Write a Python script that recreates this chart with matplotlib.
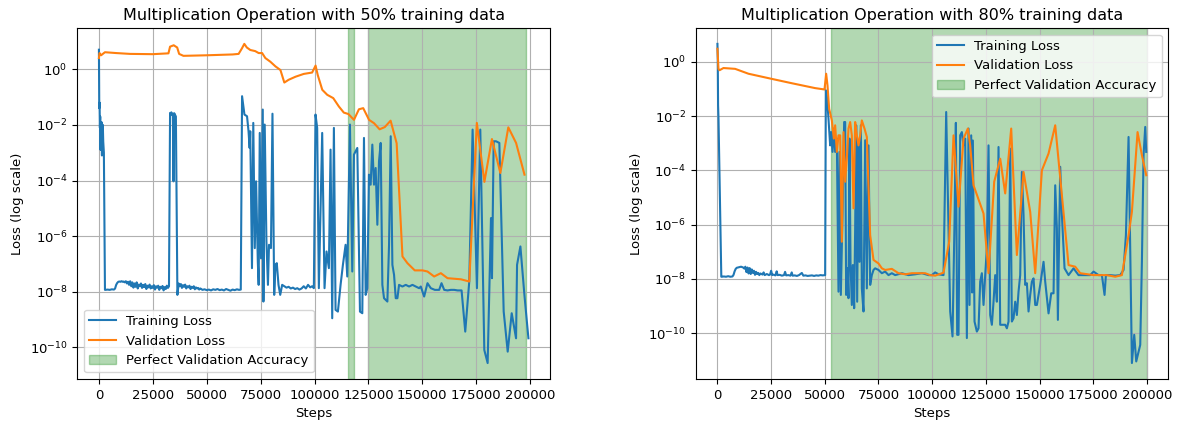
import numpy as np
import matplotlib
matplotlib.use("Agg")
import matplotlib.pyplot as plt

# ---- 50% training data (values read as log10(loss)) ----
train50_steps = [
    0, 150, 300, 450, 600, 750, 900, 1050, 1200, 1400, 1600, 1800, 2000, 2300, 2800,
    3000, 4000, 5000, 6000, 7000, 7500, 8000, 8500, 9000, 9500, 10000, 10500, 11000, 11500,
    12000, 12500, 13000, 13500, 14000, 14500, 15000, 15500, 16000, 16500, 17000, 17500,
    18000, 18500, 19000, 19500, 20000, 20500, 21000, 21500, 22000, 22500, 23000, 23500,
    24000, 24500, 25000, 25500, 26000, 26500, 27000, 27500, 28000, 28500, 29000, 29500,
    30000, 30500, 31000, 31500, 32000, 32500,
    33000, 33300, 33600, 34000, 34300, 34600, 34900, 35300, 35700, 36400,
    37000, 37500, 38000, 38500, 39000, 39500, 40000, 40500, 41000, 41500, 42000, 42500,
    43000, 43500, 44000, 44500, 45000, 45500, 46000, 46500, 47000, 47500, 48000, 49000,
    50000, 51000, 52000, 53000, 54000, 55000, 56000, 57000, 58000, 59000, 60000, 61000,
    62000, 63000, 64000, 65000, 65800,
    66400, 67100, 67500, 68700, 69400, 69900, 70200, 71000, 71600, 72300, 72900, 73700,
    74100, 74600, 75200, 76000, 76300, 76900, 77700, 78400, 78900, 79800, 80500, 81300,
    81900, 82500, 83300, 84100, 85000,
    86000, 87000, 88000, 89000, 90000, 91000, 92000, 93000, 94000, 95000, 96000, 97000,
    98000, 98900, 99700,
    100465, 101240, 102015, 103566, 104651, 105581, 106667, 107442, 108217, 108992,
    109767, 110853, 112093, 113178, 114419, 115194, 116434, 117519, 118295, 119845,
    121085, 122171, 122946, 123721, 124496, 125271, 126047, 126822, 127597, 128372,
    129147, 129922, 130698, 131473, 132248, 133798, 134574, 135349, 136124, 136899,
    137674, 138450, 139225, 140775, 142326, 143876, 145426, 146977, 148527,
    149302, 150853, 152403, 153953, 155814, 157829, 158915, 160155, 161705, 163256,
    164806, 166357, 168217, 169922, 171783, 173333, 175349, 176899, 178760, 180310,
    181860, 182326, 183101, 184186, 185736, 187752, 189612, 191473, 193488, 193953,
    195504, 197364, 199225,
]
train50_log = [
    0.70, -1.40, -1.20, -2.10, -1.70, -2.90, -2.00, -2.50, -1.90, -3.10, -2.30, -2.00, -2.60, -3.00, -7.93,
    -7.93, -7.92, -7.93, -7.91, -7.92, -7.88, -7.75, -7.68, -7.64, -7.63, -7.64, -7.62, -7.64, -7.63,
    -7.66, -7.62, -7.70, -7.64, -7.75, -7.62, -7.80, -7.66, -7.85, -7.70, -7.82, -7.66,
    -7.88, -7.74, -7.80, -7.70, -7.86, -7.75, -7.83, -7.72, -7.90, -7.78, -7.84, -7.74,
    -7.88, -7.80, -7.86, -7.76, -7.92, -7.80, -7.85, -7.78, -7.93, -7.82, -7.87, -7.79,
    -7.95, -7.83, -7.90, -7.78, -7.86, -7.80,
    -1.57, -1.62, -1.55, -1.65, -1.60, -4.03, -1.58, -1.64, -1.70, -8.11,
    -7.70, -7.80, -7.72, -7.86, -7.76, -7.82, -7.74, -7.88, -7.80, -7.84, -7.78, -7.90,
    -7.82, -7.86, -7.80, -7.91, -7.84, -7.88, -7.86, -7.92, -7.88, -7.90, -7.93, -7.91,
    -7.94, -7.92, -7.95, -7.91, -7.93, -7.90, -7.94, -7.92, -7.95, -7.90, -7.93, -7.96,
    -7.92, -7.94, -7.91, -7.93, -7.92,
    -0.97, -1.39, -1.63, -1.69, -2.23, -2.83, -2.23, -7.15, -1.93, -6.43, -4.03, -6.91,
    -7.75, -2.29, -6.80, -1.45, -8.35, -1.99, -6.19, -7.75, -6.31, -6.43, -1.60, -8.11,
    -7.03, -6.97, -7.75, -8.11, -7.75,
    -7.80, -7.85, -7.82, -7.88, -7.85, -7.90, -7.87, -7.92, -7.88, -7.80, -7.88, -7.75,
    -7.84, -7.80, -7.87,
    -1.63, -2.11, -7.87, -2.29, -7.87, -6.55, -7.15, -2.89, -8.95, -2.11,
    -8.65, -8.71, -7.75, -7.03, -6.31, -7.45, -1.99, -7.27, -3.07, -2.83,
    -8.71, -8.77, -2.47, -8.11, -7.87, -3.79, -4.15, -2.71, -4.15, -3.55,
    -5.59, -3.31, -2.65, -7.75, -8.23, -8.35, -6.31, -2.41, -7.03, -7.39,
    -8.23, -8.23, -7.75, -7.81, -7.75, -7.81, -7.75, -7.81, -7.87,
    -7.81, -8.17, -7.69, -7.87, -7.93, -7.93, -7.69, -7.93, -7.95, -7.93,
    -7.93, -7.95, -7.95, -9.43, -7.63, -2.17, -7.87, -2.17, -10.09, -10.56,
    -5.35, -7.51, -2.59, -2.59, -2.65, -8.71, -10.15, -8.77, -9.67, -7.03,
    -6.37, -8.11, -9.67,
]
val50_steps = [
    0, 300, 1000, 2800, 8000, 14400, 25000, 32250, 33000, 34700, 36300, 37200, 39200,
    50000, 62000, 64800, 66350, 67440, 68600, 70230, 72500, 74100, 75700, 77200, 79500,
    81900, 84200, 86000, 88000, 91200, 95000, 98900, 100500, 101500, 103600, 105900,
    108700, 111300, 113600, 115700, 118300, 120600, 122600, 125300, 127600, 130200,
    132600, 135300, 138100, 140800, 143100, 146500, 150100, 152400, 155500, 158600,
    161700, 167900, 171800, 175300, 178800, 182300, 186200, 189900, 193500, 197400,
]
val50_log = [
    0.40, 0.58, 0.50, 0.61, 0.58, 0.55, 0.54, 0.57, 0.81, 0.86, 0.78, 0.55, 0.48,
    0.50, 0.53, 0.55, 0.75, 0.91, 0.78, 0.69, 0.65, 0.58, 0.58, 0.40, 0.27,
    0.10, -0.03, -0.48, -0.38, -0.27, -0.17, -0.12, 0.13, -0.21, -0.74, -0.92,
    -1.04, -1.34, -1.56, -1.61, -1.82, -1.44, -1.40, -1.82, -1.94, -2.16,
    -2.08, -1.85, -2.66, -6.73, -6.97, -7.23, -7.23, -7.27, -7.45, -7.33,
    -7.51, -7.55, -7.63, -1.93, -4.05, -2.51, -3.73, -2.09, -2.65, -3.79,
]
perfect50 = [(115500, 118500), (125000, 198000)]

# ---- 80% training data (values read as log10(loss)) ----
train80_steps = [
    0, 150, 300, 500, 1800,
    2000, 3000, 4000, 5000, 6000, 7000, 7500, 8000, 8500, 9000, 10000, 11000, 12000, 12500,
    13000, 13500, 14000, 14500, 15000, 15500, 16000, 16500, 17000, 17500, 18000, 18500,
    19000, 19500, 20000, 21000, 21500, 22000, 23000, 24000, 24500, 25000, 25500, 26000,
    27000, 27600, 28000, 29000, 30000, 31000, 31500, 32000, 33000, 34000, 34600, 35000,
    36000, 37000, 38000, 39300, 40000, 41000, 42000, 43000, 44000, 45000, 46000, 47000,
    48000, 49000, 50160,
    50475, 50940, 51715, 52491, 52957, 53578, 54199, 54820, 55596, 56372, 56838, 57460,
    58236, 59012, 59478, 59944, 60564, 61030, 61496, 61962, 62583, 63049, 63670, 64136,
    64602, 65067, 65688, 66154, 66775, 67241, 68017, 68794, 69569, 70345, 71122, 71898,
    72674, 73451, 75003, 76557, 78109, 79660, 81215, 82766, 85873, 88976, 92082, 95189,
    98291,
    99846, 101397, 102949, 105277, 106520, 108383, 109469, 110400, 111024, 111644,
    112264, 113041, 113819, 114592, 115370, 116148, 116921, 117387, 118165, 118600,
    118943, 119716, 120806, 121579, 122357, 123134, 123908, 124686, 125463, 126237,
    127014, 127792, 128565, 129343, 130121, 130894, 131672, 132450, 134001, 134779,
    135552, 136330, 137108, 137881, 138659, 139436, 140209, 140987, 141765, 142538,
    143316, 144094, 144867, 145645, 146423, 147196, 147974,
    148752, 150303, 151854, 152632, 154183, 155426, 156511, 157289, 158067, 158532,
    159618, 160396, 161634, 163498, 165827, 168155, 171262, 173591, 175142, 177471,
    179026, 180265, 180889, 182906, 185235, 187564, 189115, 190205, 191444, 193000,
    194085, 195017, 196880, 197657, 198431, 199208, 199674,
]
train80_log = [
    0.66, 0.10, -1.60, -2.10, -7.92,
    -7.92, -7.91, -7.92, -7.90, -7.92, -7.91, -7.85, -7.72, -7.63, -7.59, -7.57, -7.55, -7.58, -7.62,
    -7.55, -7.75, -7.58, -7.80, -7.60, -7.82, -7.65, -7.78, -7.70, -7.85, -7.74, -7.82,
    -7.78, -7.86, -7.80, -7.84, -7.76, -7.86, -7.82, -7.86, -7.84, -7.70, -7.86, -7.84,
    -7.87, -7.72, -7.86, -7.85, -7.88, -7.86, -7.74, -7.87, -7.86, -7.88, -7.76, -7.88,
    -7.87, -7.89, -7.86, -7.78, -7.88, -7.87, -7.89, -7.88, -7.87, -7.89, -7.87, -7.88,
    -7.86, -7.87, -7.86,
    -1.05, -1.24, -2.10, -3.08, -2.59, -3.32, -2.46, -3.32, -2.83, -8.47, -3.32, -8.59,
    -5.65, -2.22, -2.22, -8.59, -7.61, -8.71, -2.83, -7.37, -8.96, -7.49, -9.08, -6.14,
    -2.34, -8.84, -2.95, -7.37, -2.34, -8.35, -9.20, -2.89, -8.35, -3.08, -8.22, -7.86,
    -7.67, -7.61, -7.67, -7.79, -7.73, -7.86, -7.79, -7.86, -7.79, -7.86, -7.83, -7.79,
    -7.86,
    -7.86, -7.76, -7.83, -7.86, -1.85, -9.20, -10.12, -5.90, -2.25, -10.06,
    -10.06, -2.71, -2.59, -3.08, -2.83, -10.18, -2.46, -8.96, -2.71, -8.50,
    -2.90, -9.57, -9.94, -9.82, -8.10, -7.79, -8.96, -7.86, -6.87, -3.08,
    -9.33, -9.69, -8.84, -7.86, -8.84, -3.14, -9.69, -9.69, -9.69, -9.82,
    -9.57, -3.20, -9.57, -9.45, -8.84, -9.33, -8.47, -7.86, -4.06, -5.65,
    -8.22, -8.16, -9.20, -8.59, -8.10, -7.98, -8.96,
    -8.96, -8.22, -7.37, -8.10, -9.27, -8.53, -8.53, -4.55, -6.14, -9.51,
    -3.87, -5.65, -7.61, -7.86, -7.61, -7.86, -7.86, -7.86, -7.73, -7.86,
    -7.86, -8.59, -7.86, -7.86, -7.88, -7.86, -7.67, -6.39, -2.77, -11.10,
    -10.06, -11.04, -10.43, -7.37, -3.44, -2.40, -3.32,
]
val80_steps = [
    0, 170, 480, 1000, 2810, 8240, 14450, 25320, 34630, 45505, 49852, 50629, 51250,
    52026, 53270, 54200, 54820, 55596, 56372, 57150, 57927, 58700, 59478, 60256, 61030,
    61808, 62583, 63358, 64136, 64912, 65688, 66465, 67241, 68482, 69569, 71122, 72674,
    75003, 76557, 78109, 81215, 84318, 87424, 90531, 93633, 96740, 99069, 101397,
    105277, 107918, 109936, 112264, 114592, 116613, 117699, 119250, 123908, 126237,
    128877, 131672, 134001, 136795, 139436, 142538, 145645, 147974, 151080, 154183,
    157289, 163498, 166605, 168933, 175142, 181355, 185235, 188340, 191444, 193000,
    195636, 197657, 199674,
]
val80_log = [
    0.48, 0.23, -0.26, -0.31, -0.23, -0.26, -0.44, -0.63, -0.79, -0.97, -1.02, -0.44, -0.87,
    -1.73, -2.16, -2.83, -2.34, -3.32, -2.71, -2.71, -6.63, -2.59, -4.42, -3.57, -2.46,
    -2.22, -2.71, -5.40, -2.22, -2.71, -3.08, -2.71, -2.16, -2.46, -2.77, -6.39, -7.30,
    -7.43, -7.61, -7.67, -7.63, -7.79, -7.83, -7.79, -7.79, -7.79, -7.86, -7.88,
    -7.77, -6.63, -2.71, -5.34, -2.83, -2.46, -3.08, -4.55, -5.59, -7.79,
    -4.42, -3.57, -4.85, -2.46, -7.12, -4.06, -5.53, -7.79, -4.00, -3.38,
    -2.34, -7.49, -7.55, -7.79, -7.86, -7.86, -7.92, -7.86, -6.39, -5.53,
    -2.59, -3.44, -4.18,
]
perfect80 = [(53000, 200000)]

runs = [
    ("Multiplication Operation with 50% training data", train50_steps, train50_log,
     val50_steps, val50_log, perfect50, "lower left"),
    ("Multiplication Operation with 80% training data", train80_steps, train80_log,
     val80_steps, val80_log, perfect80, "upper right"),
]

plt.rcParams['font.size'] = 9.5

fig = plt.figure(figsize=(11.77, 4.23), dpi=100)
positions = [[0.0658, 0.104, 0.4014, 0.830], [0.5913, 0.104, 0.4014, 0.830]]

for pos, (title, ts, tl, vs, vl, spans, loc) in zip(positions, runs):
    ax = fig.add_axes(pos)
    ax.plot(ts, 10.0 ** np.array(tl), label='Training Loss')
    ax.plot(vs, 10.0 ** np.array(vl), label='Validation Loss')
    for i, (a, b) in enumerate(spans):
        ax.axvspan(a, b, color='green', alpha=0.3,
                   label='Perfect Validation Accuracy' if i == 0 else None)
    ax.set_yscale('log')
    ax.set_title(title, fontsize=11.5)
    ax.set_xlabel('Steps')
    ax.set_ylabel('Loss (log scale)')
    ax.grid(True)
    ax.legend(loc=loc)

fig.savefig('out.png', dpi=100)
